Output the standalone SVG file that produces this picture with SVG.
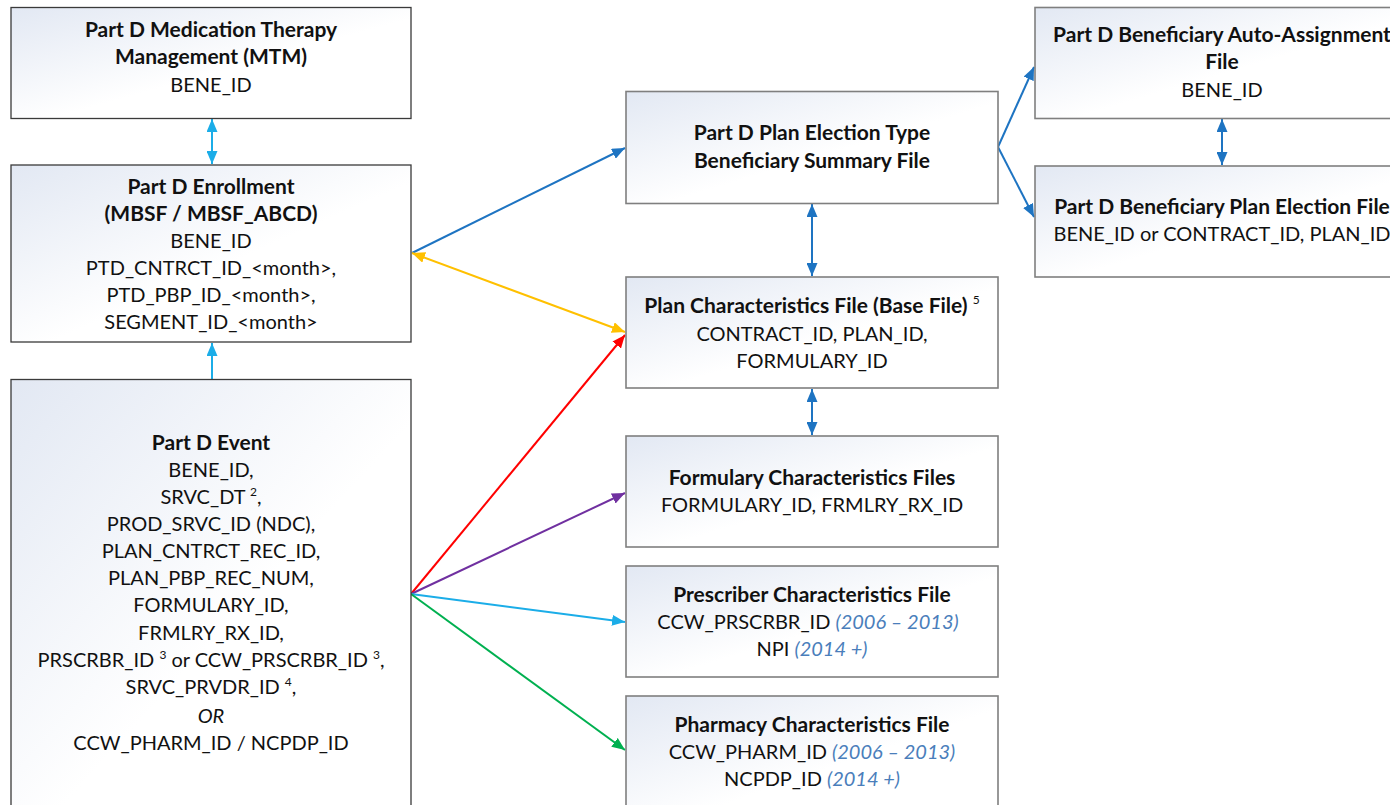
<svg xmlns="http://www.w3.org/2000/svg" width="1390" height="805" viewBox="0 0 1390 805">
<style>
  text { font-family: Lato, "Open Sans", "Liberation Sans", sans-serif; font-size: 20px; fill: #111; text-anchor: middle; }
  .b { font-weight: bold; font-size: 21px; }
  .it { font-style: italic; fill: #4A7EBB; }
  .sup { font-size: 12px; }
  .boxL { fill: url(#g); stroke: #3a3a3a; stroke-width: 1.3; }
  .boxR { fill: url(#g); stroke: #7f7f7f; stroke-width: 1.6; }
  .c { fill: none; stroke-width: 2; }
</style>
<defs>
  <linearGradient id="g" x1="0" y1="0" x2="1" y2="1">
    <stop offset="0" stop-color="#E2E8F3"/>
    <stop offset="0.55" stop-color="#FFFFFF"/>
    <stop offset="1" stop-color="#FFFFFF"/>
  </linearGradient>
  <marker id="aLB" viewBox="0 0 13 11" refX="13" refY="5.5" markerWidth="13" markerHeight="11" markerUnits="userSpaceOnUse" orient="auto-start-reverse"><path d="M0,0 L13,5.5 L0,11 z" fill="#1BADE8"/></marker>
  <marker id="aB" viewBox="0 0 13 11" refX="13" refY="5.5" markerWidth="13" markerHeight="11" markerUnits="userSpaceOnUse" orient="auto-start-reverse"><path d="M0,0 L13,5.5 L0,11 z" fill="#1E74C2"/></marker>
  <marker id="aY" viewBox="0 0 13 11" refX="13" refY="5.5" markerWidth="13" markerHeight="11" markerUnits="userSpaceOnUse" orient="auto-start-reverse"><path d="M0,0 L13,5.5 L0,11 z" fill="#FFC000"/></marker>
  <marker id="aR" viewBox="0 0 13 11" refX="13" refY="5.5" markerWidth="13" markerHeight="11" markerUnits="userSpaceOnUse" orient="auto-start-reverse"><path d="M0,0 L13,5.5 L0,11 z" fill="#FF0000"/></marker>
  <marker id="aP" viewBox="0 0 13 11" refX="13" refY="5.5" markerWidth="13" markerHeight="11" markerUnits="userSpaceOnUse" orient="auto-start-reverse"><path d="M0,0 L13,5.5 L0,11 z" fill="#7030A0"/></marker>
  <marker id="aG" viewBox="0 0 13 11" refX="13" refY="5.5" markerWidth="13" markerHeight="11" markerUnits="userSpaceOnUse" orient="auto-start-reverse"><path d="M0,0 L13,5.5 L0,11 z" fill="#00B050"/></marker>
</defs>
<rect width="1390" height="805" fill="#FFFFFF"/>

<g id="connectors">
  <line class="c" x1="212" y1="119" x2="212" y2="164" stroke="#1BADE8" marker-start="url(#aLB)" marker-end="url(#aLB)"/>
  <line class="c" x1="212" y1="379" x2="212" y2="343" stroke="#1BADE8" marker-end="url(#aLB)"/>
  <line class="c" x1="412" y1="253" x2="625" y2="148" stroke="#1E74C2" marker-end="url(#aB)"/>
  <line class="c" x1="412" y1="253" x2="625" y2="332" stroke="#FFC000" marker-start="url(#aY)" marker-end="url(#aY)"/>
  <line class="c" x1="812" y1="204" x2="812" y2="276" stroke="#1E74C2" marker-start="url(#aB)" marker-end="url(#aB)"/>
  <line class="c" x1="812" y1="389" x2="812" y2="435" stroke="#1E74C2" marker-start="url(#aB)" marker-end="url(#aB)"/>
  <line class="c" x1="411" y1="594" x2="625" y2="335" stroke="#FF0000" marker-end="url(#aR)"/>
  <line class="c" x1="411" y1="594" x2="625" y2="493" stroke="#7030A0" marker-end="url(#aP)"/>
  <line class="c" x1="411" y1="594" x2="625" y2="622" stroke="#1BADE8" marker-end="url(#aLB)"/>
  <line class="c" x1="411" y1="594" x2="625" y2="750" stroke="#00B050" marker-end="url(#aG)"/>
  <line class="c" x1="998" y1="147" x2="1034" y2="67" stroke="#1E74C2" marker-end="url(#aB)"/>
  <line class="c" x1="998" y1="147" x2="1034" y2="217" stroke="#1E74C2" marker-end="url(#aB)"/>
  <line class="c" x1="1222" y1="119" x2="1222" y2="165" stroke="#1E74C2" marker-start="url(#aB)" marker-end="url(#aB)"/>
</g>

<g id="mtm">
  <rect class="boxL" x="11" y="7.5" width="400" height="111"/>
  <text class="b" x="211" y="37">Part D Medication Therapy</text>
  <text class="b" x="211" y="64">Management (MTM)</text>
  <text x="211" y="92">BENE_ID</text>
</g>

<g id="enrollment">
  <rect class="boxL" x="11" y="165" width="400" height="177"/>
  <text class="b" x="211" y="194">Part D Enrollment</text>
  <text class="b" x="211" y="221">(MBSF / MBSF_ABCD)</text>
  <text x="211" y="248">BENE_ID</text>
  <text x="211" y="275">PTD_CNTRCT_ID_&lt;month&gt;,</text>
  <text x="211" y="302">PTD_PBP_ID_&lt;month&gt;,</text>
  <text x="211" y="329">SEGMENT_ID_&lt;month&gt;</text>
</g>

<g id="event">
  <rect class="boxL" x="11" y="379.5" width="400" height="440"/>
  <text class="b" x="211" y="450">Part D Event</text>
  <text x="211" y="477">BENE_ID,</text>
  <text x="211" y="504">SRVC_DT <tspan class="sup" dy="-8">2</tspan><tspan dy="8">,</tspan></text>
  <text x="211" y="531">PROD_SRVC_ID (NDC),</text>
  <text x="211" y="558">PLAN_CNTRCT_REC_ID,</text>
  <text x="211" y="585">PLAN_PBP_REC_NUM,</text>
  <text x="211" y="612">FORMULARY_ID,</text>
  <text x="211" y="640">FRMLRY_RX_ID,</text>
  <text x="211" y="667">PRSCRBR_ID <tspan class="sup" dy="-8">3</tspan><tspan dy="8"> or CCW_PRSCRBR_ID </tspan><tspan class="sup" dy="-8">3</tspan><tspan dy="8">,</tspan></text>
  <text x="211" y="694">SRVC_PRVDR_ID <tspan class="sup" dy="-8">4</tspan><tspan dy="8">,</tspan></text>
  <text x="211" y="723" font-style="italic">OR</text>
  <text x="211" y="750">CCW_PHARM_ID / NCPDP_ID</text>
</g>

<g id="plan-election-type">
  <rect class="boxR" x="626" y="91.5" width="372" height="112"/>
  <text class="b" x="812" y="140">Part D Plan Election Type</text>
  <text class="b" x="812" y="168">Beneficiary Summary File</text>
</g>

<g id="plan-characteristics">
  <rect class="boxR" x="626" y="277" width="372" height="111"/>
  <text class="b" x="812" y="313">Plan Characteristics File (Base File) <tspan class="sup" font-weight="normal" dy="-9">5</tspan></text>
  <text x="812" y="341">CONTRACT_ID, PLAN_ID,</text>
  <text x="812" y="368">FORMULARY_ID</text>
</g>

<g id="formulary">
  <rect class="boxR" x="626" y="436" width="372" height="111"/>
  <text class="b" x="812" y="485">Formulary Characteristics Files</text>
  <text x="812" y="512">FORMULARY_ID, FRMLRY_RX_ID</text>
</g>

<g id="prescriber">
  <rect class="boxR" x="626" y="566" width="372" height="111"/>
  <text class="b" x="812" y="602">Prescriber Characteristics File</text>
  <text x="808" y="629">CCW_PRSCRBR_ID  <tspan class="it">(2006 – 2013)</tspan></text>
  <text x="812" y="656">NPI  <tspan class="it">(2014 +)</tspan></text>
</g>

<g id="pharmacy">
  <rect class="boxR" x="626" y="696" width="372" height="130"/>
  <text class="b" x="812" y="732">Pharmacy Characteristics File</text>
  <text x="812" y="759">CCW_PHARM_ID  <tspan class="it">(2006 – 2013)</tspan></text>
  <text x="812" y="786">NCPDP_ID  <tspan class="it">(2014 +)</tspan></text>
</g>

<g id="auto-assignment">
  <rect class="boxR" x="1035" y="7.5" width="374" height="111"/>
  <text class="b" x="1222" y="42">Part D Beneficiary Auto-Assignment</text>
  <text class="b" x="1222" y="69">File</text>
  <text x="1222" y="97">BENE_ID</text>
</g>

<g id="plan-election-file">
  <rect class="boxR" x="1035" y="166" width="374" height="111"/>
  <text class="b" x="1222" y="214">Part D Beneficiary Plan Election File</text>
  <text x="1222" y="241">BENE_ID or CONTRACT_ID, PLAN_ID</text>
</g>
</svg>
